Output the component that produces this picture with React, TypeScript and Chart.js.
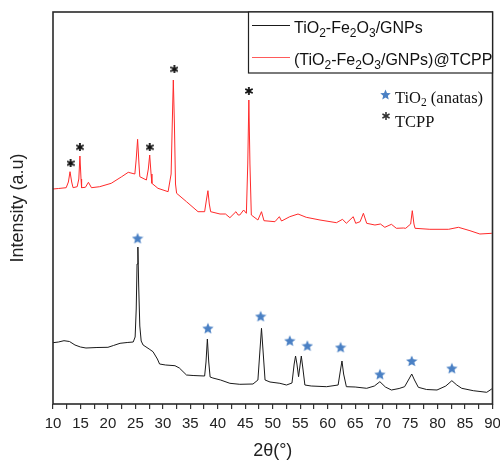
import React, { useEffect, useRef } from "react";
import { Chart, registerables } from "chart.js";

Chart.register(...registerables);

// ---- Data ----
const blackTheta = [
  10.0, 11.0, 12.0, 13.0, 14.0, 15.0, 16.0, 18.0, 20.0, 21.0, 22.2, 23.5, 24.6, 24.95, 25.15, 25.3, 25.45, 25.6, 25.8, 26.05,
  26.4, 27.5, 28.2, 29.0, 29.4, 30.5, 32.2, 33.0, 34.3, 35.5, 37.6, 37.85, 38.1, 38.35, 38.6, 39.1, 40.5, 42.2, 44.0, 46.4,
  47.3, 47.65, 47.95, 48.25, 48.6, 49.5, 51.3, 52.5, 53.5, 53.9, 54.15, 54.4, 54.7, 55.0, 55.2, 55.5, 55.85, 57.0, 59.8, 61.9,
  62.3, 62.6, 62.9, 63.4, 65.0, 67.1, 68.5, 69.5, 70.5, 71.6, 73.0, 74.0, 74.8, 75.3, 75.8, 76.5, 78.0, 79.9, 81.5, 82.6,
  83.5, 84.4, 86.5, 88.95, 89.85, 90.0,
];
const blackIntensity = [
  61.3, 62, 63.3, 62.5, 59, 57, 56, 56.5, 56.7, 58.5, 60.7, 61.5, 62, 67, 95, 140, 157, 118, 78, 63,
  59, 55, 52.3, 45, 40, 39, 38.3, 36, 29, 28.5, 28, 42, 65, 42, 27, 26, 24, 20.7, 19.7, 20,
  24, 52, 75.7, 52, 24, 22, 20.7, 19, 21, 40, 48, 40, 27.3, 40, 48, 35, 19, 18, 17.3, 19,
  33, 43, 30, 17.3, 17, 15.7, 18, 22.3, 17, 14, 15.5, 17.3, 25, 30, 24, 16.7, 14.5, 14, 18, 23.3,
  19, 15.7, 13.3, 11.7, 15, 15,
];

const redTheta = [
  10.0, 11.0, 12.4, 12.8, 13.1, 13.4, 13.65, 14.4, 14.7, 14.9, 15.1, 15.2, 15.9, 16.45, 17.0, 18.5, 20.6, 22.5, 23.7, 24.9,
  25.15, 25.4, 25.65, 25.8, 27.0, 27.35, 27.6, 27.85, 28.0, 29.1, 30.95, 31.5, 31.75, 31.9, 32.1, 32.3, 32.5, 34.3, 36.4, 37.6,
  37.95, 38.2, 38.45, 38.7, 40.4, 41.4, 42.2, 43.3, 43.7, 44.0, 44.7, 45.2, 45.45, 45.65, 45.85, 46.1, 47.3, 47.95, 48.4, 50.4,
  51.2, 51.6, 53.1, 54.6, 56.1, 58.6, 61.6, 62.7, 63.4, 64.65, 65.1, 65.9, 66.5, 67.1, 68.6, 69.6, 70.4, 71.6, 72.5, 73.8,
  74.2, 75.1, 75.4, 75.7, 75.9, 78.6, 82.0, 83.8, 85.9, 87.7, 89.85, 90.0,
];
const redIntensity = [
  215, 215.5, 216.3, 222, 232.3, 222, 216.3, 217.3, 225, 248, 225, 216.3, 216.7, 221.7, 216.3, 217.3, 220.7, 227.3, 231.7, 230,
  245, 264.7, 240, 227.3, 224, 235, 249, 230, 220.7, 215.7, 212.3, 230, 290, 324, 280, 220, 210.7, 202.3, 192.3, 192.3,
  205, 213.3, 200, 192.3, 190, 190, 186.3, 192.3, 189, 189, 194, 190.7, 240, 304, 240, 189, 184, 192.3, 183.3, 182.3,
  187.3, 183, 187.3, 190, 186.7, 184, 181.3, 184.7, 180.7, 187.3, 180.7, 182.3, 190.7, 180.7, 179, 180, 176.7, 179.7, 175.7, 176,
  175.7, 180, 193.3, 180, 175.7, 174.7, 174.7, 176.7, 173.3, 170, 170.7, 170.7,
];

// Peak marks
const anataseTheta = [25.4, 38.2, 47.8, 53.1, 56.3, 62.35, 69.5, 75.3, 82.6];
const anataseMarkY = [165.7, 75.7, 87.7, 63.3, 58.3, 56.7, 29.7, 43, 35.7];
const tcppTheta = [13.2, 14.9, 27.6, 32.1, 45.65];
const tcppMarkY = [240.7, 256.7, 256.7, 334.7, 313];

const seriesNames = ["TiO2-Fe2O3/GNPs", "(TiO2-Fe2O3/GNPs)@TCPP"];
const markNames = ["TiO2 (anatas)", "TCPP"];
const xTitle = "2θ(°)";
const yTitle = "Intensity (a.u)";
const xMin = 10;
const xMax = 90;
const xStep = 2.5;
const xLabelStep = 5;
const yMin = 0;
const yMax = 392;

const BLACK = "#1a1a1a";
const RED = "#ff2a2a";
const BLUE = "#4a80c4";

function makeStar(size: number, color: string) {
  const c = document.createElement("canvas");
  c.width = size;
  c.height = size;
  const ctx = c.getContext("2d")!;
  const cx = size / 2;
  const cy = size / 2 + 0.5;
  const R = size / 2;
  const r = R * 0.45;
  ctx.beginPath();
  for (let i = 0; i < 10; i++) {
    const a = -Math.PI / 2 + (i * Math.PI) / 5;
    const rad = i % 2 === 0 ? R : r;
    const px = cx + rad * Math.cos(a);
    const py = cy + rad * Math.sin(a);
    if (i === 0) ctx.moveTo(px, py);
    else ctx.lineTo(px, py);
  }
  ctx.closePath();
  ctx.fillStyle = color;
  ctx.fill();
  return c;
}

function makeAsterisk(size: number, color: string, lw: number) {
  const c = document.createElement("canvas");
  c.width = size;
  c.height = size;
  const ctx = c.getContext("2d")!;
  const cx = size / 2;
  const cy = size / 2;
  const R = size / 2 - 0.5;
  ctx.strokeStyle = color;
  ctx.lineWidth = lw;
  ctx.lineCap = "round";
  for (let i = 0; i < 3; i++) {
    const a = Math.PI / 2 + (i * Math.PI) / 3;
    ctx.beginPath();
    ctx.moveTo(cx - R * Math.cos(a), cy - R * Math.sin(a));
    ctx.lineTo(cx + R * Math.cos(a), cy + R * Math.sin(a));
    ctx.stroke();
  }
  return c;
}

// split "TiO2-Fe2O3" into runs: digits after a letter become subscripts
function richParts(text: string): [string, boolean][] {
  const parts: [string, boolean][] = [];
  for (let i = 0; i < text.length; i++) {
    const ch = text[i];
    const sub = /[0-9]/.test(ch) && i > 0 && /[A-Za-z]/.test(text[i - 1]);
    const last = parts[parts.length - 1];
    if (last && last[1] === sub) last[0] += ch;
    else parts.push([ch, sub]);
  }
  return parts;
}

function drawRich(
  ctx: CanvasRenderingContext2D,
  text: string,
  x: number,
  y: number,
  size: number,
  subSize: number,
  subOff: number,
  family: string
) {
  let cx = x;
  for (const [t, sub] of richParts(text)) {
    ctx.font = `${sub ? subSize : size}px ${family}`;
    ctx.fillText(t, cx, sub ? y + subOff : y);
    cx += ctx.measureText(t).width;
  }
}

const overlayPlugin = {
  id: "overlay",
  afterDraw(chart: any) {
    const { ctx, chartArea } = chart;
    const { left, right, top, bottom } = chartArea;
    ctx.save();
    // frame
    ctx.strokeStyle = "#2a2a2a";
    ctx.lineWidth = 1.6;
    ctx.strokeRect(left, top, right - left, bottom - top);

    // legend box
    const sans = '"Liberation Sans", Arial, sans-serif';
    ctx.lineWidth = 1.2;
    ctx.strokeStyle = "#222";
    ctx.fillStyle = "#fff";
    ctx.fillRect(248.5, top, right - 248.5, 61);
    ctx.strokeRect(248.5, top, right - 248.5, 61);
    const rows = [
      { y: 25, color: BLACK, text: seriesNames[0] },
      { y: 57, color: "#ff5a5a", text: seriesNames[1] },
    ];
    ctx.textBaseline = "alphabetic";
    ctx.textAlign = "left";
    for (const r of rows) {
      ctx.strokeStyle = r.color;
      ctx.lineWidth = 1;
      ctx.beginPath();
      ctx.moveTo(252, r.y + 0.5);
      ctx.lineTo(290, r.y + 0.5);
      ctx.stroke();
      ctx.fillStyle = "#111";
      drawRich(ctx, r.text, 294, r.y + 8, 16, 12, 4, sans);
    }

    // mark legend
    const serif = '"Liberation Serif", "Times New Roman", serif';
    const star = makeStar(11, BLUE);
    ctx.drawImage(star, 380, 89);
    ctx.fillStyle = "#111";
    drawRich(ctx, markNames[0], 395, 103, 16.5, 11.5, 3, serif);
    const ast = makeAsterisk(8, "#333", 1.6);
    ctx.drawImage(ast, 382, 112);
    ctx.font = `16.5px ${serif}`;
    ctx.fillText(markNames[1], 395, 127);
    ctx.restore();
  },
};

export default function App() {
  const ref = useRef<HTMLCanvasElement | null>(null);
  useEffect(() => {
    if (!ref.current) return;
    const starImg = makeStar(12, BLUE);
    const astImg = makeAsterisk(8, "#111", 1.8);
    const chart = new Chart(ref.current, {
      type: "line",
      data: {
        datasets: [
          {
            label: seriesNames[0],
            data: blackTheta.map((x, i) => ({ x, y: blackIntensity[i] })),
            borderColor: BLACK,
            borderWidth: 1,
            pointRadius: 0,
            tension: 0,
          },
          {
            label: seriesNames[1],
            data: redTheta.map((x, i) => ({ x, y: redIntensity[i] })),
            borderColor: RED,
            borderWidth: 1,
            pointRadius: 0,
            tension: 0,
          },
          {
            label: markNames[0],
            data: anataseTheta.map((x, i) => ({ x, y: anataseMarkY[i] })),
            showLine: false,
            pointStyle: starImg as any,
            pointRadius: 6,
          },
          {
            label: markNames[1],
            data: tcppTheta.map((x, i) => ({ x, y: tcppMarkY[i] })),
            showLine: false,
            pointStyle: astImg as any,
            pointRadius: 4,
          },
        ],
      },
      options: {
        animation: false,
        responsive: false,
        devicePixelRatio: 1,
        events: [],
        layout: { padding: { top: 12, right: 7.5, left: 0, bottom: 0 } },
        plugins: { legend: { display: false }, tooltip: { enabled: false } },
        font: { family: '"Liberation Sans", Arial, sans-serif' } as any,
        scales: {
          x: {
            type: "linear",
            min: xMin,
            max: xMax,
            afterFit(scale: any) {
              scale.height = 64;
              scale.paddingLeft = 0;
              scale.paddingRight = 0;
            },
            afterBuildTicks(scale: any) {
              const t = [];
              for (let v = xMin; v <= xMax + 1e-9; v += xStep) t.push({ value: v });
              scale.ticks = t;
            },
            ticks: {
              autoSkip: false,
              maxRotation: 0,
              color: "#222",
              padding: 6,
              font: { size: 15, family: '"Liberation Sans", Arial, sans-serif' },
              callback: (v: any) => (Math.abs(v % xLabelStep) < 1e-9 ? String(v) : ""),
            },
            grid: {
              display: true,
              drawOnChartArea: false,
              drawTicks: true,
              tickLength: 5,
              color: "#333",
              lineWidth: 1.2,
            },
            border: { display: false },
            title: {
              display: true,
              text: xTitle,
              color: "#222",
              font: { size: 18, family: '"Liberation Sans", Arial, sans-serif' },
              padding: { top: 0, bottom: 6 },
            },
          },
          y: {
            type: "linear",
            min: yMin,
            max: yMax,
            afterFit(scale: any) {
              scale.width = 53;
            },
            ticks: { display: false },
            grid: { display: false },
            border: { display: false },
            title: {
              display: true,
              text: yTitle,
              color: "#222",
              font: { size: 18, family: '"Liberation Sans", Arial, sans-serif' },
              padding: { top: 7, bottom: 0 },
            },
          },
        },
      },
      plugins: [overlayPlugin],
    });
    return () => chart.destroy();
  }, []);
  return (
    <div style={{ position: "fixed", left: 0, top: 0, width: 500, height: 468, background: "#fff" }}>
      <canvas ref={ref} width={500} height={468} />
    </div>
  );
}
